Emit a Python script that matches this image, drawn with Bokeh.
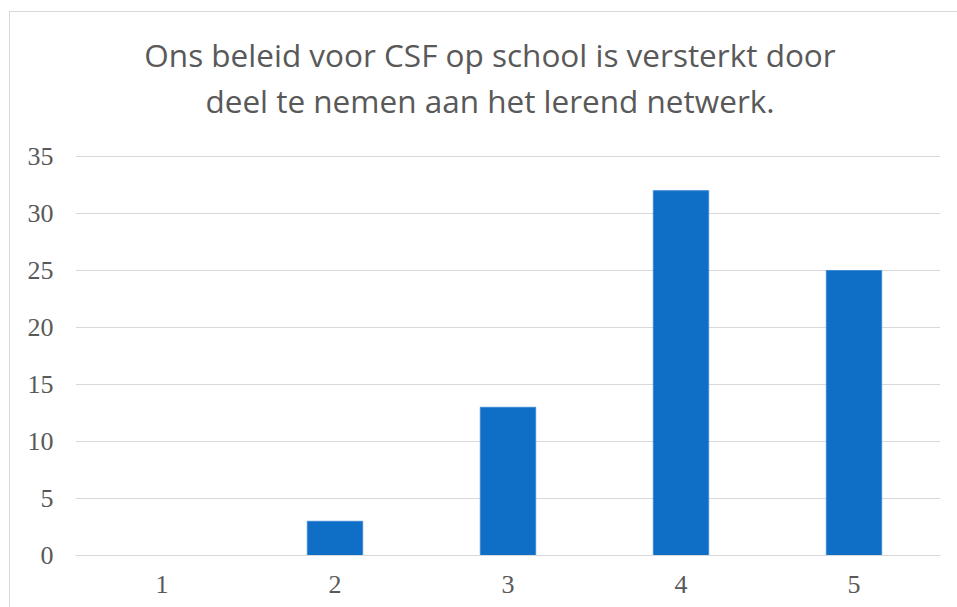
from bokeh.plotting import figure
from bokeh.models import Range1d, FixedTicker, Label, ColumnDataSource
from bokeh.embed import file_html
from bokeh.resources import INLINE

categories = ["1", "2", "3", "4", "5"]
positions = [1, 2, 3, 4, 5]
counts = [0, 3, 13, 32, 25]
y_ticks = [0, 5, 10, 15, 20, 25, 30, 35]
title_lines = ["Ons beleid voor CSF op school is versterkt door",
               "deel te nemen aan het lerend netwerk."]

# layout: the value axis (0..35) occupies 399 px; the frame extends up to hold the title
axis_px = 399
frame_h = 543
y_max = max(y_ticks)
y_end = y_max * frame_h / axis_px

src = ColumnDataSource(dict(x=positions, top=counts))

p = figure(width=947, height=595, output_backend="svg", toolbar_location=None,
           x_range=Range1d(0.5, 5.5), y_range=Range1d(0, y_end),
           min_border_left=65, min_border_right=17, min_border_top=0, min_border_bottom=52,
           frame_width=865, frame_height=frame_h,
           styles={"margin-left": "9px", "margin-top": "11px",
                   "border-left": "1px solid #d9d9d9", "border-top": "1px solid #d9d9d9"})
p.background_fill_color = "white"
p.border_fill_color = "white"
p.outline_line_color = None

p.vbar(x="x", top="top", width=0.32, bottom=0, source=src,
       fill_color="#0F6FC6", line_color="#3d8ad6", line_width=1)

p.xgrid.grid_line_color = None
p.ygrid.grid_line_color = "#d9d9d9"
p.ygrid.grid_line_width = 1
p.yaxis.ticker = FixedTicker(ticks=y_ticks)
p.xaxis.ticker = FixedTicker(ticks=positions)
p.xaxis.major_label_overrides = {pos: lab for pos, lab in zip(positions, categories)}

for ax in (p.xaxis[0], p.yaxis[0]):
    ax.major_tick_in = 0
    ax.major_tick_out = 0
    ax.minor_tick_in = 0
    ax.minor_tick_out = 0
    ax.major_label_text_font = "Liberation Serif"
    ax.major_label_text_font_size = "26px"
    ax.major_label_text_color = "#595959"
p.yaxis.axis_line_color = None
p.xaxis.axis_line_color = "#d9d9d9"
p.yaxis.major_label_standoff = 22
p.xaxis.major_label_standoff = 20

# title lines, centred on the chart area (screen units from frame bottom-left)
title_cx = 414.5
title_base = [501, 455]
for line, yb in zip(title_lines, title_base):
    p.add_layout(Label(x=title_cx, y=yb, x_units="screen", y_units="screen",
                       text=line, text_align="center", text_baseline="alphabetic",
                       text_font="Open Sans", text_font_size="31.5px",
                       text_color="#595959"))

open("out.html", "w").write(file_html(p, INLINE))
